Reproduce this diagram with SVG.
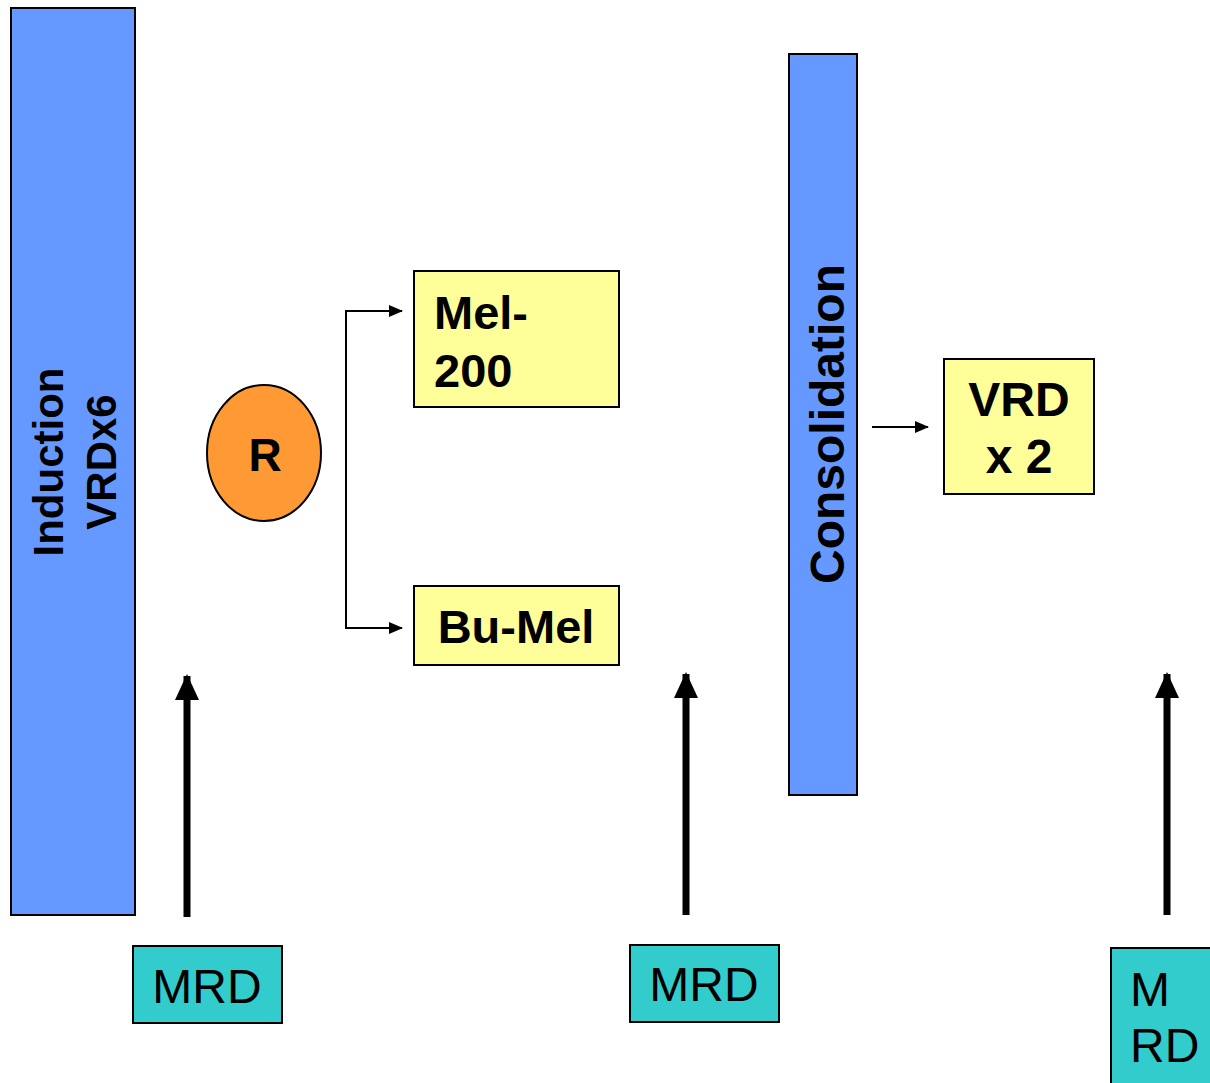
<svg xmlns="http://www.w3.org/2000/svg" width="1210" height="1083" viewBox="0 0 1210 1083">
<style>
.bar{fill:#6699FF;stroke:#000;stroke-width:2}
.yel{fill:#FFFF99;stroke:#000;stroke-width:2}
.teal{fill:#33CCCC;stroke:#000;stroke-width:2}
.b{font-family:"Liberation Sans",Arial,sans-serif;font-weight:bold;fill:#000}
.n{font-family:"Liberation Sans",Arial,sans-serif;fill:#000}
.thin{stroke:#000;stroke-width:2;fill:none}
.thick{stroke:#000;stroke-width:7;fill:none}
</style>
<defs>
<marker id="ah" markerWidth="14" markerHeight="12" refX="13" refY="6" orient="auto" markerUnits="userSpaceOnUse" viewBox="0 0 14 12">
<path d="M0,0 L14,6 L0,12 Z" fill="#000"/>
</marker>
<marker id="ahb" markerWidth="26" markerHeight="24" refX="24" refY="12" orient="auto" markerUnits="userSpaceOnUse" viewBox="0 0 26 24">
<path d="M0,0 L26,12 L0,24 Z" fill="#000"/>
</marker>
</defs>
<g id="induction">
<rect class="bar" x="11" y="8" width="124" height="907"/>
<text class="b" font-size="42" text-anchor="middle" transform="translate(63,462) rotate(-90)">Induction</text>
<text class="b" font-size="42" text-anchor="middle" transform="translate(116,462) rotate(-90)">VRDx6</text>
</g>
<g id="r">
<ellipse cx="264" cy="453" rx="57" ry="68" fill="#FF9933" stroke="#000" stroke-width="2"/>
<text class="b" font-size="46" text-anchor="middle" x="265" y="471">R</text>
</g>
<g id="mel200">
<rect class="yel" x="414" y="271" width="205" height="136"/>
<text class="b" font-size="47" x="434" y="329">Mel-</text>
<text class="b" font-size="47" x="434" y="387">200</text>
</g>
<g id="bumel">
<rect class="yel" x="414" y="586" width="205" height="79"/>
<text class="b" font-size="47" text-anchor="middle" x="516" y="643">Bu-Mel</text>
</g>
<g id="consolidation">
<rect class="bar" x="789" y="54" width="68" height="741"/>
<text class="b" font-size="48" text-anchor="middle" transform="translate(844,424) rotate(-90)">Consolidation</text>
</g>
<g id="vrd2">
<rect class="yel" x="944" y="359" width="150" height="135"/>
<text class="b" font-size="48" text-anchor="middle" x="1019" y="416">VRD</text>
<text class="b" font-size="48" text-anchor="middle" x="1019" y="473">x 2</text>
</g>
<g id="mrd1">
<rect class="teal" x="133" y="946" width="149" height="77"/>
<text class="n" font-size="48" text-anchor="middle" x="207" y="1003">MRD</text>
</g>
<g id="mrd2">
<rect class="teal" x="630" y="945" width="149" height="77"/>
<text class="n" font-size="48" text-anchor="middle" x="704" y="1001">MRD</text>
</g>
<g id="mrd3">
<rect class="teal" x="1111" y="948" width="110" height="140"/>
<text class="n" font-size="48" x="1130" y="1006">M</text>
<text class="n" font-size="48" x="1130" y="1062">RD</text>
</g>
<g id="connectors">
<path class="thin" d="M346,311 L346,628"/>
<path class="thin" d="M345,311 L402,311" marker-end="url(#ah)"/>
<path class="thin" d="M345,628 L402,628" marker-end="url(#ah)"/>
<path class="thin" d="M872,427 L928,427" marker-end="url(#ah)"/>
<path class="thick" d="M187,917 L187,676" marker-end="url(#ahb)"/>
<path class="thick" d="M686,915 L686,674" marker-end="url(#ahb)"/>
<path class="thick" d="M1167,915 L1167,674" marker-end="url(#ahb)"/>
</g>
</svg>
